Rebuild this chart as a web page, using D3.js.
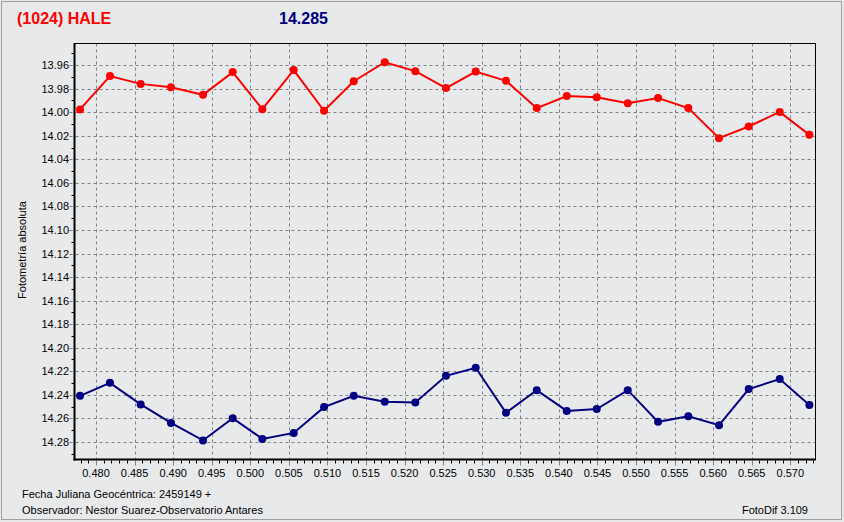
<!DOCTYPE html>
<html>
<head>
<meta charset="utf-8">
<script src="https://cdn.jsdelivr.net/npm/d3@7"></script>
<style>
html,body{margin:0;padding:0;background:#e8e9eb;}
svg{display:block;}
text{font-family:"Liberation Sans",Arial,sans-serif;}
</style>
</head>
<body>
<svg id="chart" width="844" height="522"></svg>
<script>
// ---- data ----
const jdFrac = [0.47793,0.48181,0.48579,0.48972,0.49387,0.49772,0.50156,0.50563,0.50956,0.51341,0.51743,0.52139,0.52537,0.52922,0.53315,0.53713,0.54102,0.54491,0.54893,0.55286,0.55678,0.56076,0.56461,0.56863,0.57247];
const asteroidMag = [13.9976,13.9693,13.9759,13.9787,13.9852,13.9659,13.9974,13.9642,13.9988,13.9736,13.9575,13.9651,13.9795,13.9654,13.9733,13.9965,13.9863,13.9872,13.9923,13.9880,13.9965,14.0220,14.0121,13.9997,14.0192];
const compMag = [14.2409,14.2299,14.2482,14.2639,14.2788,14.2599,14.2775,14.2724,14.2505,14.2409,14.2460,14.2465,14.2239,14.2171,14.2553,14.2361,14.2537,14.2522,14.2361,14.2630,14.2582,14.2658,14.2352,14.2267,14.2486];
const xTickLabels = ["0.480","0.485","0.490","0.495","0.500","0.505","0.510","0.515","0.520","0.525","0.530","0.535","0.540","0.545","0.550","0.555","0.560","0.565","0.570"];
const yTickLabels = ["13.96","13.98","14.00","14.02","14.04","14.06","14.08","14.10","14.12","14.14","14.16","14.18","14.20","14.22","14.24","14.26","14.28"];
const titleText = "(1024) HALE";
const subtitleText = "14.285";
const yAxisTitle = "Fotometría absoluta";
const footer1 = "Fecha Juliana Geocéntrica: 2459149 +";
const footer2 = "Observador: Nestor Suarez-Observatorio Antares";
const footerRight = "FotoDif 3.109";

// ---- layout ----
const svg = d3.select("#chart");
const L = 74.5, R = 815.5, T = 43.5, B = 459.5;
const x = d3.scaleLinear().domain([0.477213, 0.573267]).range([L, R]);
const y = d3.scaleLinear().domain([13.9416, 14.295]).range([T, B]);

// background + outer border
svg.append("rect").attr("x",0).attr("y",0).attr("width",844).attr("height",522).attr("fill","#e8e9eb");
svg.append("rect").attr("x",1.5).attr("y",1.5).attr("width",840).attr("height",518)
  .attr("fill","none").attr("stroke","#a0a0a0").attr("stroke-width",1);

// grid
const gGrid = svg.append("g").attr("stroke","#808080").attr("stroke-width",1).attr("stroke-dasharray","3,3").attr("fill","none");
xTickLabels.forEach(t => {
  const px = Math.round(x(+t)) + 0.5;
  gGrid.append("line").attr("x1",px).attr("x2",px).attr("y1",T).attr("y2",B);
});
yTickLabels.forEach(t => {
  const py = Math.round(y(+t)) + 0.5;
  gGrid.append("line").attr("x1",L-5).attr("x2",R).attr("y1",py).attr("y2",py);
});

// minor ticks
const gTicks = svg.append("g").attr("stroke","#000").attr("stroke-width",1);
d3.range(478, 574).forEach(i => {
  const v = i/1000;
  const px = Math.round(x(v)) + 0.5;
  const major = i % 5 === 0;
  gTicks.append("line").attr("x1",px).attr("x2",px).attr("y1",B+1).attr("y2",B + (major ? 6 : 4))
    .attr("stroke", major ? "#808080" : "#000");
});
d3.range(1395, 1430).forEach(i => {
  const v = i/100;
  if (v < 13.9416 || v > 14.295) return;
  if (i % 2 === 0) return;
  const py = Math.round(y(v)) + 0.5;
  gTicks.append("line").attr("x1",L-3).attr("x2",L).attr("y1",py).attr("y2",py);
});

// frame
svg.append("line").attr("x1",L).attr("x2",R).attr("y1",T).attr("y2",T).attr("stroke","#000").attr("stroke-width",1);
svg.append("line").attr("x1",R).attr("x2",R).attr("y1",T).attr("y2",B).attr("stroke","#000").attr("stroke-width",1);
svg.append("line").attr("x1",L).attr("x2",L).attr("y1",T-0.5).attr("y2",B+1).attr("stroke","#000").attr("stroke-width",2);
svg.append("line").attr("x1",L-1).attr("x2",R+0.5).attr("y1",B).attr("y2",B).attr("stroke","#000").attr("stroke-width",2);

// tick labels
const gxl = svg.append("g").attr("font-size","11px").attr("fill","#000").attr("text-anchor","middle");
xTickLabels.forEach(t => {
  gxl.append("text").attr("x", x(+t)).attr("y", 477).text(t);
});
const gyl = svg.append("g").attr("font-size","11px").attr("fill","#000").attr("text-anchor","end");
yTickLabels.forEach(t => {
  gyl.append("text").attr("x", 69).attr("y", y(+t) + 4).text(t);
});

// axis title
svg.append("text").attr("transform","translate(26,250) rotate(-90)").attr("text-anchor","middle")
  .attr("font-size","11px").attr("fill","#000").text(yAxisTitle);

// titles
svg.append("text").attr("x",17).attr("y",24).attr("font-size","16px").attr("font-weight","bold")
  .attr("fill","#ff0000").text(titleText);
svg.append("text").attr("x",279).attr("y",24).attr("font-size","16px").attr("font-weight","bold")
  .attr("fill","#000080").text(subtitleText);

// footers
svg.append("text").attr("x",22).attr("y",498).attr("font-size","11px").attr("fill","#000").text(footer1);
svg.append("text").attr("x",22).attr("y",514).attr("font-size","11px").attr("fill","#000").text(footer2);
svg.append("text").attr("x",808).attr("y",514).attr("text-anchor","end").attr("font-size","11px").attr("fill","#000").text(footerRight);

// series
function drawSeries(vals, color) {
  const pts = jdFrac.map((d,i) => [d, vals[i]]);
  const line = d3.line().x(d => x(d[0])).y(d => y(d[1]));
  const g = svg.append("g");
  g.append("path").attr("d", line(pts)).attr("fill","none").attr("stroke",color).attr("stroke-width",2);
  g.selectAll("circle").data(pts).join("circle")
    .attr("cx", d => x(d[0])).attr("cy", d => y(d[1])).attr("r",4).attr("fill",color);
}
drawSeries(asteroidMag, "#ff0000");
drawSeries(compMag, "#000080");
</script>
</body>
</html>
